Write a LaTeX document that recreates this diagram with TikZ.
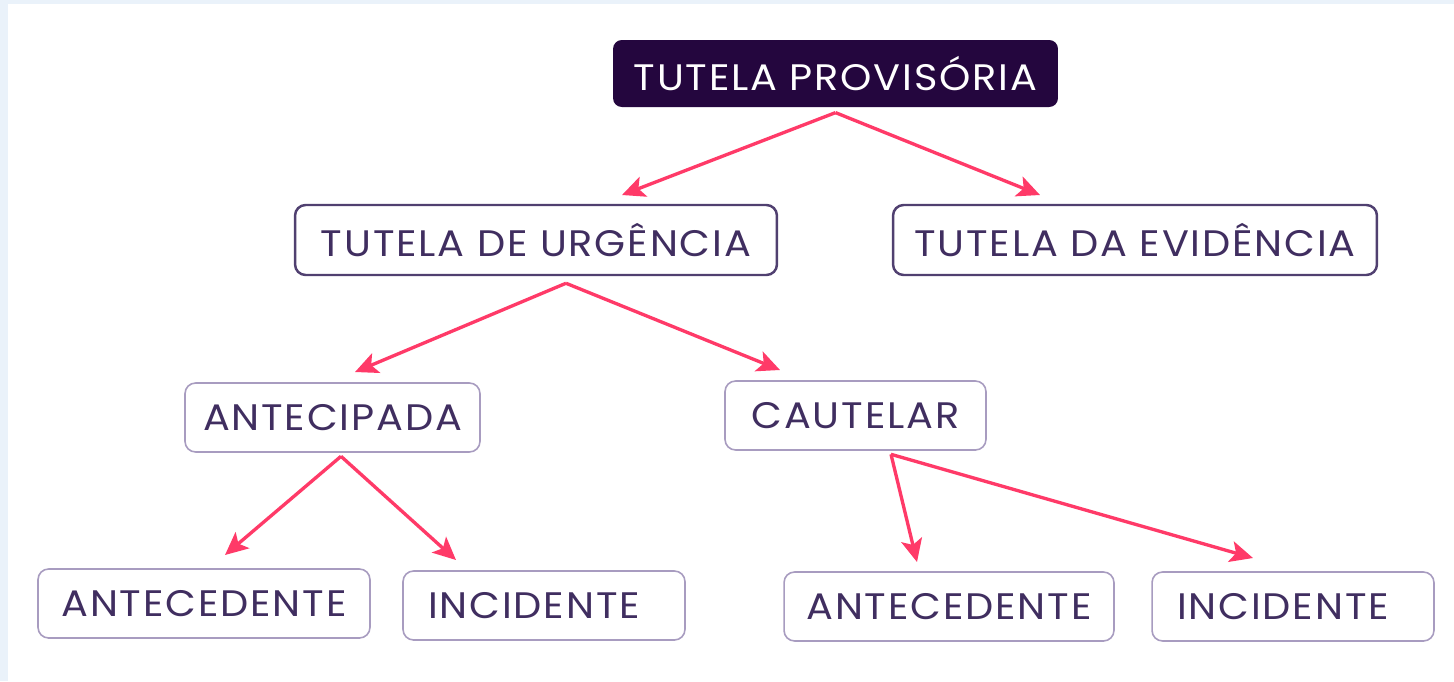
\documentclass[tikz,border=0pt]{standalone}
\usepackage{fontspec}
\setmainfont{Poppins}[FakeStretch=1.08, LetterSpace=5]
\usetikzlibrary{arrows.meta}
\definecolor{rootfill}{RGB}{36,6,62}
\definecolor{darkline}{RGB}{80,64,112}
\definecolor{lightline}{RGB}{168,156,192}
\definecolor{ink}{RGB}{64,46,96}
\definecolor{arrowred}{RGB}{255,58,104}
\definecolor{bgblue}{RGB}{234,242,250}
\begin{document}
\begin{tikzpicture}[x=0.02cm,y=-0.02cm]
\tikzstyle{root}=[rounded corners=5pt, fill=rootfill, text=white, inner sep=0pt, font=\fontsize{21}{25}\selectfont]
\tikzstyle{mid}=[rounded corners=6pt, draw=darkline, line width=1.4pt, text=ink, inner sep=0pt, minimum height=1.4cm, font=\fontsize{21}{25}\selectfont]
\tikzstyle{leaf}=[rounded corners=6pt, draw=lightline, line width=0.9pt, text=ink, inner sep=0pt, minimum height=1.38cm, font=\fontsize{21}{25}\selectfont]
\tikzstyle{link}=[color=arrowred, line width=1.9pt, -{Stealth[length=13pt, width=12pt, inset=3pt]}]

\useasboundingbox (0,0) rectangle (1454,681);
\fill[white] (0,0) rectangle (1454,681);
\fill[bgblue] (0,0) rectangle (8,681);
\fill[bgblue] (0,0) rectangle (1454,4);

\node[root, minimum width=8.9cm, minimum height=1.34cm] (T) at (835.5,73.5) {TUTELA PROVISÓRIA};
\node[mid, minimum width=9.64cm] (U) at (536,240) {TUTELA DE URGÊNCIA};
\node[mid, minimum width=9.68cm] (E) at (1135,240) {TUTELA DA EVIDÊNCIA};
\node[leaf, minimum width=5.9cm] (A) at (332.5,417.5) {ANTECIPADA};
\node[leaf, minimum width=5.22cm] (C) at (855.5,415.5) {CAUTELAR};
\node[leaf, minimum width=6.64cm] (A1) at (204,603.5) {ANTECEDENTE};
\node[leaf, minimum width=5.64cm] (I1) at (544,605.5) {INCIDENTE\hspace*{0.4cm}};
\node[leaf, minimum width=6.6cm] (A2) at (949,606.5) {ANTECEDENTE};
\node[leaf, minimum width=5.64cm] (I2) at (1293,606.5) {INCIDENTE\hspace*{0.4cm}};

\coordinate (t1) at (622,195);
\coordinate (t2) at (1040,195);
\coordinate (u1) at (355,372);
\coordinate (u2) at (780,370);
\coordinate (a1) at (225,555);
\coordinate (a2) at (456,560);
\coordinate (c1) at (917,562);
\coordinate (c2) at (1253,558);

\path
([yshift=-3pt]T.south) edge[link] (t1)
                       edge[link] (t2)
([xshift=0.6cm,yshift=-4pt]U.south) edge[link] (u1)
                                    edge[link] (u2)
([xshift=0.17cm,yshift=-2pt]A.south) edge[link] (a1)
                                     edge[link] (a2)
([xshift=0.71cm,yshift=-2pt]C.south) edge[link] (c1)
                                     edge[link] (c2);
\end{tikzpicture}
\end{document}
